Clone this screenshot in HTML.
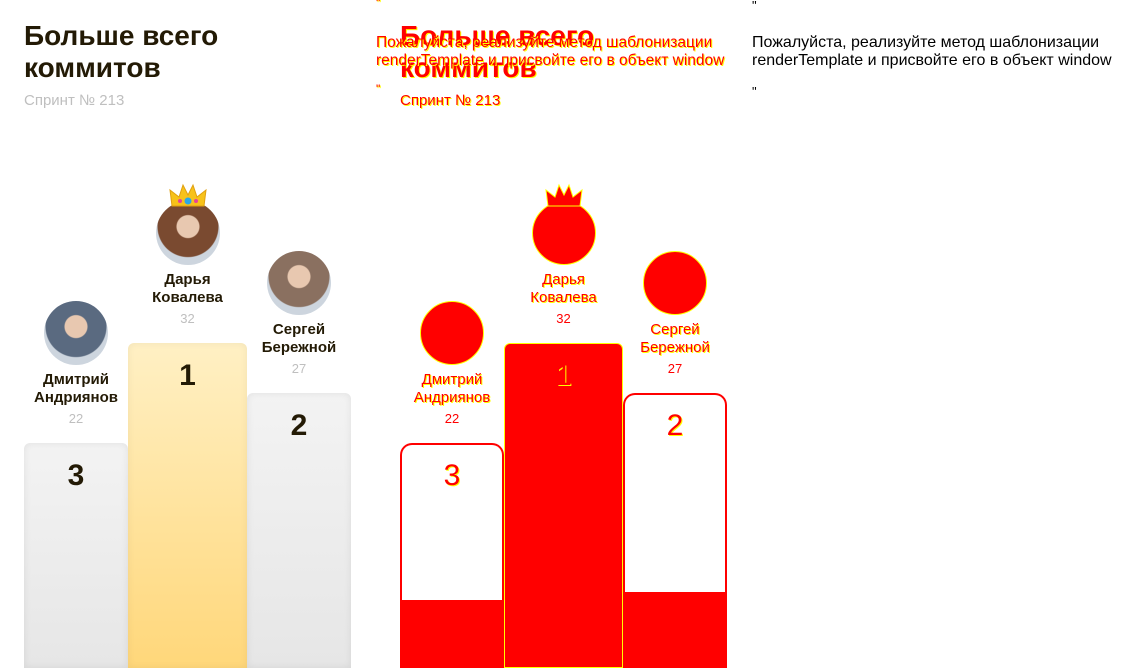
<!DOCTYPE html>
<html><head><meta charset="utf-8">
<style>
*{margin:0;padding:0;box-sizing:border-box}
body{width:1128px;height:668px;overflow:hidden;background:#fff;position:relative;font-family:"Liberation Sans","DejaVu Sans",sans-serif}
.abs{position:absolute}
.title{font-size:28px;font-weight:bold;line-height:32px;color:#231a05;white-space:nowrap}
.sub{font-size:15px;color:#bfbfbf}
.red{color:#ff0000;text-shadow:1px 1px 0 #ff0}
.msg{font-size:16px;line-height:18px;white-space:nowrap}
</style></head><body>
<div id="left" class="abs" style="left:0;top:0;width:376px;height:668px">
 <div class="abs title" style="left:24px;top:20px">Больше всего<br>коммитов</div>
 <div class="abs sub" style="left:24px;top:92px">Спринт № 213</div>
</div>
<div id="mid" class="abs" style="left:376px;top:0;width:376px;height:668px">
 <div class="abs red" style="left:0;top:-4px;font-size:12px">"</div>
 <div class="abs red" style="left:0;top:82px;font-size:12px">"</div>
 <div class="abs title red" style="left:24px;top:20px">Больше всего<br>коммитов</div>
 <div class="abs msg red" style="left:0;top:34px;font-size:15.5px">Пожалуйста, реализуйте метод шаблонизации<br>renderTemplate и присвойте его в объект window</div>
 <div class="abs sub red" style="left:24px;top:92px">Спринт № 213</div>
</div>
<div class="abs" style="left:752px;top:0">
 <div class="abs" style="left:0;top:-2px;font-size:13px;color:#000">"</div>
 <div class="abs msg" style="left:0;top:34px;color:#000">Пожалуйста, реализуйте метод шаблонизации<br>renderTemplate и присвойте его в объект window</div>
 <div class="abs" style="left:0;top:84px;font-size:13px;color:#000">"</div>
</div>
<script>
const names=[["Дмитрий","Андриянов"],["Дарья","Ковалева"],["Сергей","Бережной"]];
const values=[22,32,27];
const ranks=[3,1,2];
const colX=[24,128,247], colW=[104,119,104];
const faces=["#5a6a80","#7a4a30","#8a7060"];
function topFor(r){return 343+(r-1)*50;}
function add(parent,html,style,name){
 const d=document.createElement('div');d.className='abs';d.innerHTML=html;d.style.cssText=style;
 
 
 parent.appendChild(d);return d;}
const L=document.getElementById('left'), M=document.getElementById('mid');
for(let i=0;i<3;i++){
 const t=topFor(ranks[i]), x=colX[i], w=colW[i], cx=x+w/2;
 const gold=ranks[i]===1;
 const bg=gold?"linear-gradient(#fff0c4,#ffd77a)":"linear-gradient(#f3f3f3,#e6e6e6)";
 add(L,'',`left:${x}px;top:${t}px;width:${w}px;height:${668-t}px;background:${bg};border-radius:6px 6px 0 0;box-shadow:inset 0 0 8px rgba(0,0,0,${gold?0.06:0.08})`,'podium-bar');
 add(L,String(ranks[i]),`left:${x}px;top:${t+16}px;width:${w}px;font-size:30px;font-weight:bold;color:#231a05;text-align:center`,'rank-label');
 add(L,names[i].join('<br>'),`left:${cx-60}px;top:${t-72}px;width:120px;font-size:15px;font-weight:bold;color:#231a05;text-align:center;line-height:18px`,'user-name');
 add(L,String(values[i]),`left:${cx-60}px;top:${t-32}px;width:120px;font-size:13px;color:#bfbfbf;text-align:center`,'commit-count');
 add(L,'',`left:${cx-32}px;top:${t-142}px;width:64px;height:64px;border-radius:50%;background:radial-gradient(circle at 50% 40%,#e8c8b0 0 22%,${faces[i]} 24% 60%,#cdd5de 62%)`,'user-avatar');
 add(M,'',`left:${cx-32}px;top:${t-142}px;width:64px;height:64px;border-radius:50%;background:#f00;border:1px solid #ff0`,'diff-avatar');
 add(M,names[i].join('<br>'),`left:${cx-60}px;top:${t-72}px;width:120px;font-size:15px;color:#f00;text-align:center;line-height:18px;text-shadow:1px 1px 0 #ff0`,'diff-name');
 add(M,String(values[i]),`left:${cx-60}px;top:${t-32}px;width:120px;font-size:13px;color:#f00;text-align:center`,'diff-count');
 if(gold){
  add(M,'',`left:${x}px;top:${t}px;width:${w}px;height:${668-t}px;background:#f00;border:1px solid #ff0;border-radius:6px 6px 0 0`,'diff-bar');
 }else{
  const redTop=ranks[i]===2?592:600;
  add(M,'',`left:${x}px;top:${t}px;width:${w}px;height:${668-t}px;border:2px solid #f00;border-bottom:0;border-radius:12px 12px 0 0`,'diff-bar-outline');
  add(M,'',`left:${x}px;top:${redTop}px;width:${w}px;height:${668-redTop}px;background:#f00`,'diff-bar-fill');
 }
 add(M,String(ranks[i]),`left:${x}px;top:${t+16}px;width:${w}px;font-size:30px;color:#f00;text-align:center;text-shadow:1px 1px 0 #ff0`,'diff-rank');
}
const crownSvg=(fill,stroke)=>`<svg width="38" height="28" viewBox="0 0 38 28"><path d="M3 24 L1 8 L10 15 L14 3 L19 13 L24 3 L28 15 L37 8 L35 24 Z" fill="${fill}" stroke="${stroke}" stroke-width="1"/><circle cx="19" cy="19" r="3.5" fill="${stroke==='#ff0'?'#f00':'#2aa7e8'}"/><circle cx="11" cy="19" r="2" fill="${stroke==='#ff0'?'#f00':'#e8409a'}"/><circle cx="27" cy="19" r="2" fill="${stroke==='#ff0'?'#f00':'#e8409a'}"/></svg>`;
add(L,crownSvg('#f7c21a','#e0a010'),'left:169px;top:182px','crown-icon');
add(M,crownSvg('#f00','#ff0'),'left:169px;top:182px','diff-crown');
</script>
</body></html>
